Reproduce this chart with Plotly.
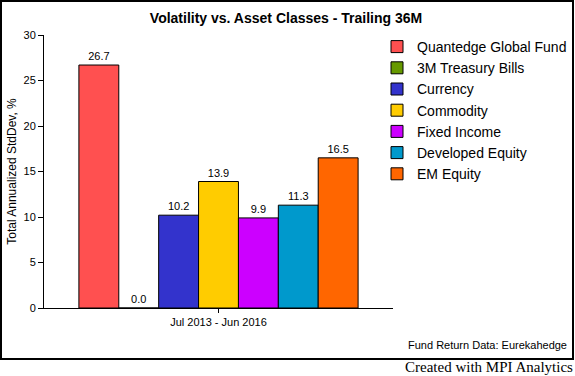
import plotly.graph_objects as go

W, H = 575, 376

period = ["Jul 2013 - Jun 2016"]
series_names = ["Quantedge Global Fund", "3M Treasury Bills", "Currency", "Commodity",
                "Fixed Income", "Developed Equity", "EM Equity"]
series_values = [26.7, 0.0, 10.2, 13.9, 9.9, 11.3, 16.5]
series_colors = ["#FF5050", "#669900", "#3333CC", "#FFCC00", "#CC00FF", "#0099CC", "#FF6600"]
y_ticks = [0, 5, 10, 15, 20, 25, 30]

FONT = "Arial, Liberation Sans, sans-serif"


def px(x):
    return x / W


def py(y):
    return 1 - y / H


fig = go.Figure()
for name, val, col in zip(series_names, series_values, series_colors):
    fig.add_trace(go.Bar(
        x=period, y=[val], name=name,
        marker=dict(color=col, line=dict(color="black", width=1)),
        texttemplate="%{y:.1f}", textposition="outside",
        textfont=dict(family=FONT, size=11, color="black"),
        cliponaxis=False,
    ))

fig.update_layout(
    width=W, height=H,
    margin=dict(l=0, r=0, t=0, b=0),
    paper_bgcolor="white", plot_bgcolor="white",
    font=dict(family=FONT, color="black"),
    barmode="group", bargap=0.2, bargroupgap=0,
    showlegend=True,
    title=dict(text="<b>Volatility vs. Asset Classes - Trailing 36M</b>",
               x=px(286), y=py(18), xanchor="center", yanchor="middle",
               xref="paper", yref="paper",
               font=dict(family=FONT, size=14, color="black")),
    legend=dict(x=px(377), y=py(31), xanchor="left", yanchor="top",
                font=dict(family=FONT, size=14, color="black"),
                bgcolor="rgba(0,0,0,0)", borderwidth=0),
    xaxis=dict(domain=[px(44), px(393)], automargin=False,
               showline=True, linecolor="black", linewidth=1,
               ticks="outside", ticklen=4, tickcolor="black",
               tickfont=dict(family=FONT, size=11, color="black"),
               showgrid=False, zeroline=False, fixedrange=True),
    yaxis=dict(domain=[py(308), py(35)], automargin=False,
               range=[0, 30], tickvals=y_ticks,
               showline=True, linecolor="black", linewidth=1,
               ticks="outside", ticklen=5, tickcolor="black",
               tickfont=dict(family=FONT, size=11, color="black"),
               showgrid=False, zeroline=False,
               title=dict(text="Total Annualized StdDev, %", standoff=4,
                          font=dict(family=FONT, size=12, color="black"))),
    shapes=[dict(type="rect", xref="paper", yref="paper",
                 x0=px(1), x1=px(573), y0=py(359), y1=py(1),
                 line=dict(color="black", width=2), fillcolor="rgba(0,0,0,0)")],
    annotations=[
        dict(text="Fund Return Data: Eurekahedge", xref="paper", yref="paper",
             x=px(569), y=py(345), xanchor="right", yanchor="middle", showarrow=False,
             font=dict(family=FONT, size=11, color="black")),
        dict(text="Created with MPI Analytics", xref="paper", yref="paper",
             x=px(575), y=py(367), xanchor="right", yanchor="middle", showarrow=False,
             font=dict(family="Times New Roman, Liberation Serif, serif", size=15, color="black")),
    ],
)

fig.write_html("out.html",
               config={"displayModeBar": False},
               post_script="document.body.style.margin='0px';document.body.style.overflow='hidden';")
